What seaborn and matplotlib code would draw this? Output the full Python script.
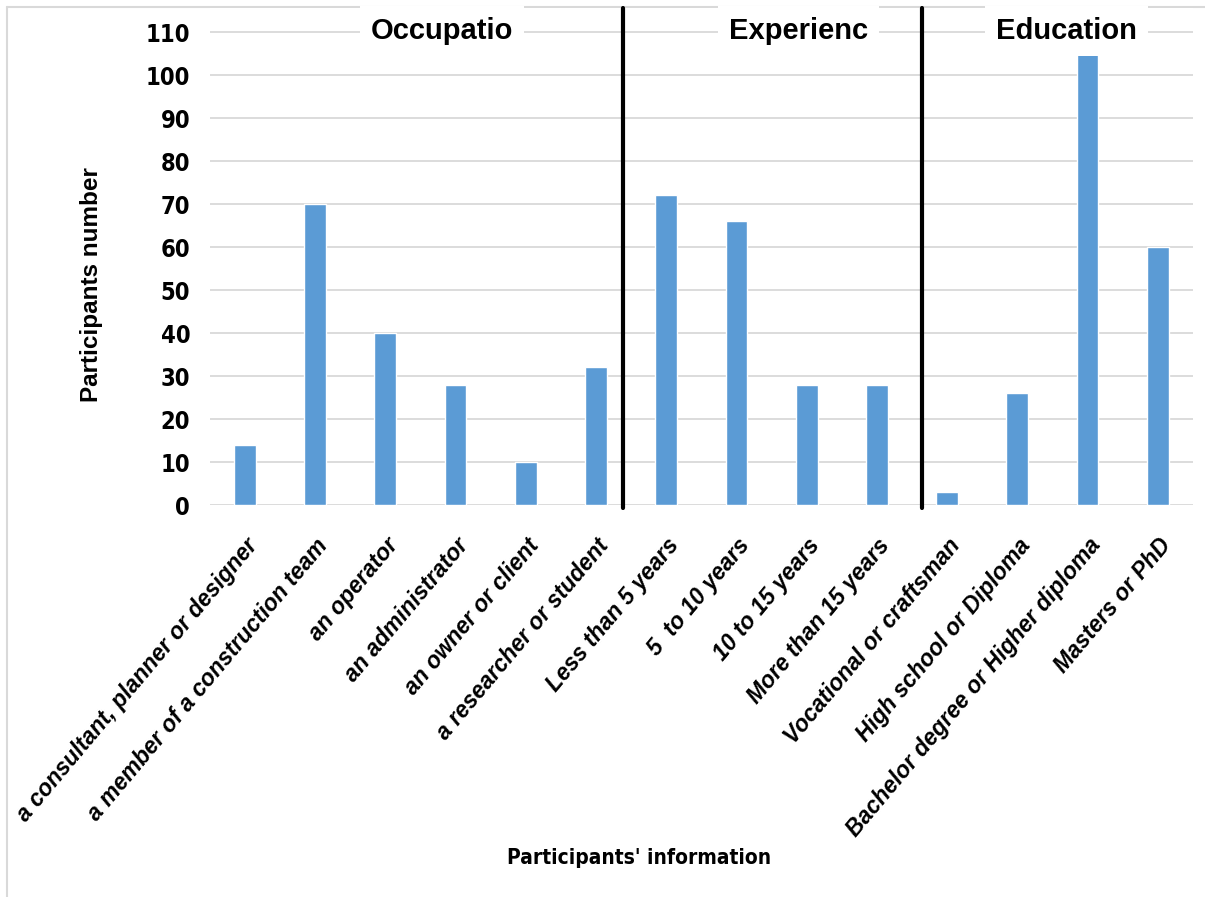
import matplotlib
matplotlib.use("Agg")
import matplotlib.pyplot as plt
from matplotlib import font_manager
from matplotlib.font_manager import FontProperties
from matplotlib.lines import Line2D
import seaborn as sns
import pandas as pd

# Data
categories = [
    "a consultant, planner or designer",
    "a member of a construction team",
    "an operator",
    "an administrator",
    "an owner or client",
    "a researcher or student",
    "Less than 5 years",
    "5  to 10 years",
    "10 to 15 years",
    "More than 15 years",
    "Vocational or craftsman",
    "High school or Diploma",
    "Bachelor degree or Higher diploma",
    "Masters or PhD",
]
counts = [14, 70, 40, 28, 10, 32, 72, 66, 28, 28, 3, 26, 105, 60]
group_names = ["Occupatio", "Experienc", "Education"]
group_sizes = [6, 4, 4]
y_ticks = list(range(0, 111, 10))

df = pd.DataFrame({"category": categories, "count": counts})

sns.set_theme(style="white")
plt.rcParams["font.family"] = ["Liberation Sans", "DejaVu Sans"]
plt.rcParams["text.color"] = "black"


# look for a condensed bold face (Arial Narrow look-alike)
def narrow_bold(size):
    best = None
    for f in font_manager.fontManager.ttflist:
        fn = f.fname.lower()
        is_narrow = ("narrow" in fn or "condensed" in fn
                     or f.stretch in ("condensed", "semi-condensed"))
        is_bold = f.weight in ("bold", 700) or "bold" in fn
        if is_narrow and is_bold and "oblique" not in fn and "italic" not in fn:
            if best is None or "liberation" in fn:
                best = f.fname
    if best:
        return FontProperties(fname=best, size=size)
    return FontProperties(family="Liberation Sans", weight="bold", size=size - 1.5)


fig = plt.figure(figsize=(12.05, 8.97), dpi=100)
ax = fig.add_axes([0.174, 0.437, 0.816, 0.554])

sns.barplot(data=df, x="category", y="count", color="#5B9BD5",
            saturation=1, width=0.31, ax=ax)

ax.set_xlim(-0.5, len(categories) - 0.5)
ax.set_ylim(0, 115.6)
ax.yaxis.grid(True, color="#D9D9D9", linewidth=1.3)
ax.set_axisbelow(True)
for s in ax.spines.values():
    s.set_visible(False)
ax.tick_params(axis="both", length=0, colors="black")
ax.tick_params(axis="y", pad=14)

ax.set_yticks(y_ticks)
ax.set_yticklabels([str(v) for v in y_ticks], fontproperties=narrow_bold(17))

ax.set_xticks(range(len(categories)))
ax.set_xticklabels(categories, rotation=50, ha="right", va="top",
                   rotation_mode="anchor", fontsize=16.5,
                   fontweight="bold", fontstyle="italic", color="black")
ax.tick_params(axis="x", pad=21)

ax.set_xlabel("Participants' information", fontproperties=narrow_bold(15),
              color="black")
ax.xaxis.set_label_coords(0.437, -0.69)
ax.set_ylabel("Participants number", fontsize=17.5, fontweight="bold",
              color="black")
ax.yaxis.set_label_coords(-0.108, 0.443)

# group separators and headings
sep_nudge = [-0.12, 0.14]
title_nudge = [0.31, 0.38, 0.2]
start = 0
for i, (name, size) in enumerate(zip(group_names, group_sizes)):
    center = start + (size - 1) / 2 + title_nudge[i]
    ax.text(center, 110.3, name, ha="center", va="center", fontsize=21,
            fontweight="bold", color="black",
            bbox=dict(facecolor="white", edgecolor="none", pad=8))
    start += size
    if i < len(group_sizes) - 1:
        ax.axvline(start - 0.5 + sep_nudge[i], ymin=-0.007, ymax=1,
                   color="black", linewidth=3, clip_on=False)

# light frame on left and top like the source image
fig.add_artist(Line2D([0.006, 0.006], [0, 0.992], color="#D9D9D9", lw=1.5, zorder=0))
fig.add_artist(Line2D([0.006, 1], [0.992, 0.992], color="#D9D9D9", lw=1.5, zorder=0))

fig.savefig("out.png", dpi=100)
